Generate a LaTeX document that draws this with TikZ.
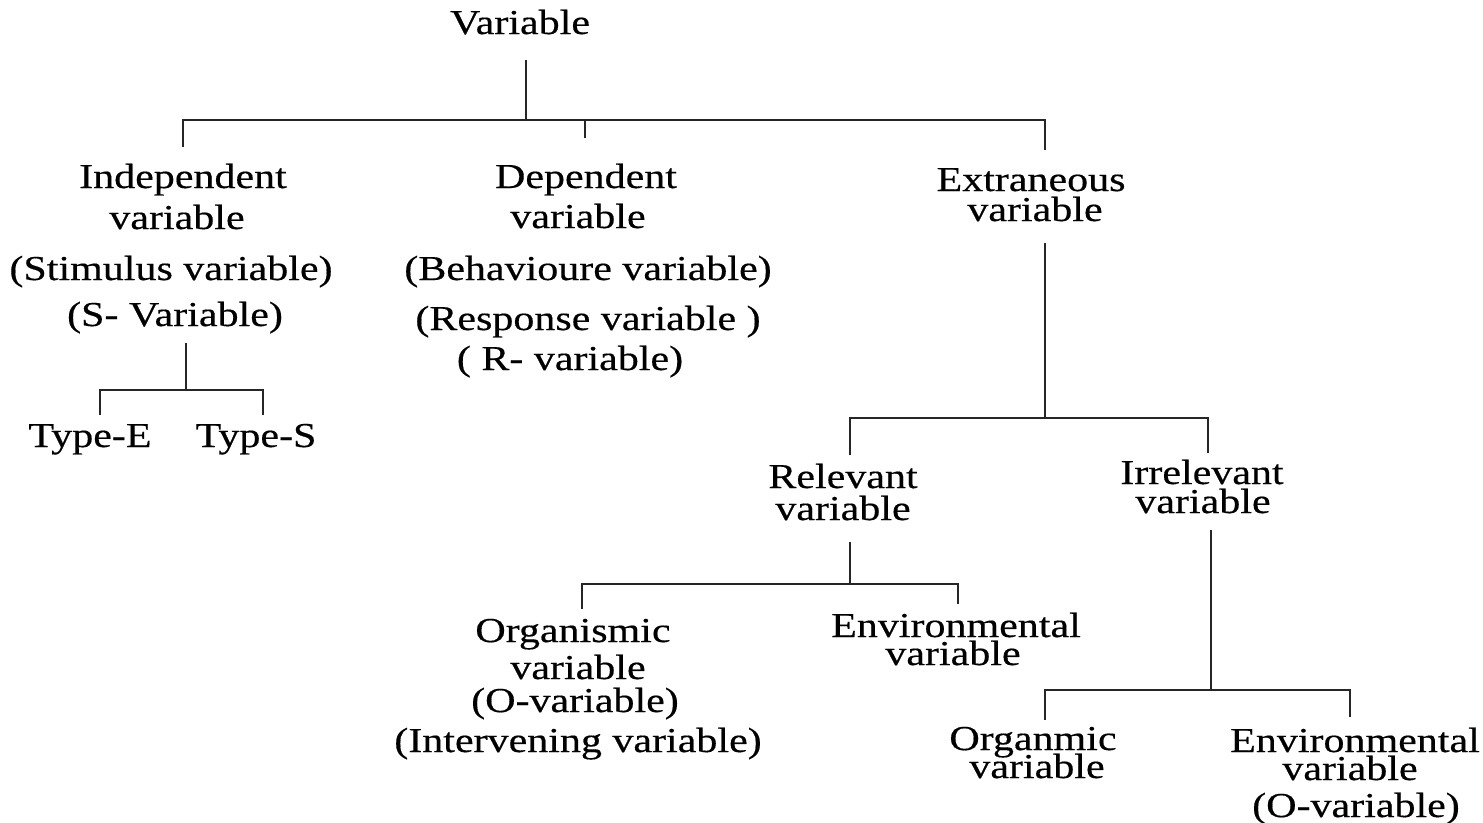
\documentclass[tikz,border=0pt]{standalone}
\usepackage{fontspec}
\setmainfont{Liberation Serif}[FakeStretch=1.2,FakeBold=0.4]
\begin{document}
\begin{tikzpicture}[x=1pt,y=-1pt,
  lbl/.style={anchor=base,inner sep=0pt,font=\fontsize{35}{41}\selectfont},
  conn/.style={line width=2.8pt,draw=black!85}]
\useasboundingbox (0,0) rectangle (1483,822);
% root
\node[lbl] (root) at (520,34) {Variable};
% independent
\node[lbl] (ind1) at (183,188) {Independent};
\node[lbl] (ind2) at (177,229) {variable};
\node[lbl] (ind3) at (171,280) {(Stimulus variable)};
\node[lbl] (ind4) at (175,326) {(S- Variable)};
\node[lbl] (typeE) at (90,447) {Type-E};
\node[lbl] (typeS) at (256,447) {Type-S};
% dependent
\node[lbl] (dep1) at (586,188) {Dependent};
\node[lbl] (dep2) at (578,228) {variable};
\node[lbl] (dep3) at (588,280) {(Behavioure variable)};
\node[lbl] (dep4) at (588,330) {(Response variable )};
\node[lbl] (dep5) at (570,370) {( R- variable)};
% extraneous
\node[lbl] (ext1) at (1031,191) {Extraneous};
\node[lbl] (ext2) at (1035,221) {variable};
% relevant / irrelevant
\node[lbl] (rel1) at (843,488) {Relevant};
\node[lbl] (rel2) at (843,520) {variable};
\node[lbl] (irr1) at (1202,484) {Irrelevant};
\node[lbl] (irr2) at (1203,513) {variable};
% relevant children
\node[lbl] (org1) at (573,642) {Organismic};
\node[lbl] (org2) at (578,679) {variable};
\node[lbl] (org3) at (575,712) {(O-variable)};
\node[lbl] (org4) at (578,752) {(Intervening variable)};
\node[lbl] (env1) at (956,637) {Environmental};
\node[lbl] (env2) at (953,665) {variable};
% irrelevant children
\node[lbl] (orm1) at (1033,750) {Organmic};
\node[lbl] (orm2) at (1037,778) {variable};
\node[lbl] (envb1) at (1355,752) {Environmental};
\node[lbl] (envb2) at (1350,780) {variable};
\node[lbl] (envb3) at (1356,817) {(O-variable)};
% connector coordinates
\coordinate (rootOut) at (526,60);
\coordinate (rootJ) at (526,120);
\coordinate (indIn) at (183,147);
\coordinate (depIn) at (585,138);
\coordinate (extIn) at (1045,150);
\coordinate (sOut) at (186,343);
\coordinate (sJ) at (186,390);
\coordinate (tEIn) at (100,415);
\coordinate (tSIn) at (263,415);
\coordinate (eOut) at (1045,243);
\coordinate (eJ) at (1045,418);
\coordinate (relIn) at (850,455);
\coordinate (irrIn) at (1208,453);
\coordinate (rOut) at (850,542);
\coordinate (rJ) at (850,584);
\coordinate (orgIn) at (582,609);
\coordinate (envIn) at (958,604);
\coordinate (iOut) at (1211,530);
\coordinate (iJ) at (1211,690);
\coordinate (ormIn) at (1045,720);
\coordinate (envbIn) at (1350,717);
% connectors
\draw[conn] (rootOut) -- (rootJ);
\draw[conn] (indIn) |- (rootJ) -| (extIn);
\draw[conn] (depIn) -- (depIn |- rootJ);
\draw[conn] (sOut) -- (sJ);
\draw[conn] (tEIn) |- (sJ) -| (tSIn);
\draw[conn] (eOut) -- (eJ);
\draw[conn] (relIn) |- (eJ) -| (irrIn);
\draw[conn] (rOut) -- (rJ);
\draw[conn] (orgIn) |- (rJ) -| (envIn);
\draw[conn] (iOut) -- (iJ);
\draw[conn] (ormIn) |- (iJ) -| (envbIn);
\end{tikzpicture}
\end{document}
